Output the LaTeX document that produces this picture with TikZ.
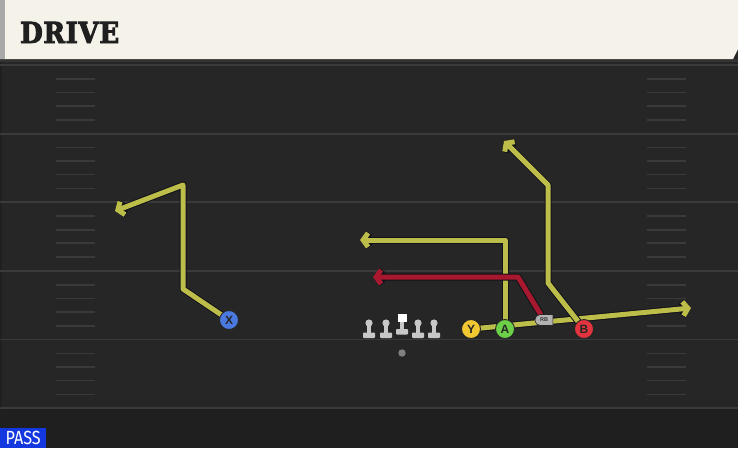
\documentclass[tikz,border=0pt]{standalone}
\usepackage{fontspec}
\usetikzlibrary{arrows.meta,shapes.misc}
\definecolor{cream}{HTML}{F5F2EA}
\definecolor{fieldbg}{HTML}{262626}
\definecolor{fieldlow}{HTML}{1F1F1F}
\definecolor{yardline}{HTML}{3A3A3A}
\definecolor{routey}{HTML}{BDBD4A}
\definecolor{router}{HTML}{A8182E}
\definecolor{routeedge}{HTML}{12121A}
\definecolor{pblue}{HTML}{4A7AE0}
\definecolor{pyellow}{HTML}{F2C832}
\definecolor{pgreen}{HTML}{6CD048}
\definecolor{pred}{HTML}{E2343E}
\definecolor{linegrey}{HTML}{C8C8C8}
\definecolor{passblue}{HTML}{1438E0}
\definecolor{stripgrey}{HTML}{A8A8A8}
\newfontfamily\headfont[FakeBold=3, LetterSpace=2, FakeStretch=0.9]{DejaVu Serif}
\newfontfamily\labfont{Liberation Sans}
\newfontfamily\passfont[FakeStretch=0.85]{Fira Sans}
\pgfdeclarelayer{field}
\pgfdeclarelayer{routes}
\pgfsetlayers{field,routes,main}
\newcommand\routedraw[2]{\draw[routeouter] #2; \draw[routeinner,#1] #2;}
\tikzset{
  routeouter/.style={line width=7pt, draw=routeedge, line join=round, -{Straight Barb[length=5pt,width=14pt]}},
  routeinner/.style={line width=5pt, line join=round, -{Straight Barb[length=5pt,width=14pt]}},
  player/.style={circle, minimum size=19pt, inner sep=0pt, draw=black!85, line width=0.9pt,
    font=\labfont\bfseries\fontsize{12}{12}\selectfont, text=black!85},
  yard/.style={draw=yardline, line width=1.8pt},
  hash/.style={draw=yardline, line width=1.6pt},
  lineman/.style={fill=linegrey},
}
\begin{document}
\begin{tikzpicture}[x=1pt,y=-1pt]
\useasboundingbox (0,0) rectangle (738,448);
\begin{pgfonlayer}{field}
  \fill[fieldbg] (0,0) rectangle (738,448);
  \fill[fieldlow] (0,408) rectangle (738,448);
  \fill[black!80] (0,59) rectangle (738,62);
  \fill[black!15!fieldbg] (0,62) rectangle (2,448);
  \fill[cream] (0,0) -- (738,0) -- (738,49) -- (733,59) -- (0,59) -- cycle;
  \fill[stripgrey] (0,0) rectangle (5,59);
  \foreach \k in {0,...,5} {
    \pgfmathsetmacro\yy{65+68.6*\k}
    \draw[yard] (0,\yy) -- (738,\yy);
  }
  \foreach \k in {0,...,4} {
    \foreach \o in {14,27.5,41,55} {
      \pgfmathsetmacro\yy{65+68.6*\k+\o}
      \draw[hash] (56,\yy) -- (95,\yy);
      \draw[hash] (647,\yy) -- (686,\yy);
    }
  }
\end{pgfonlayer}

\node[anchor=base west, font=\headfont\bfseries\fontsize{29}{29}\selectfont, text=black!88, inner sep=0pt] (title) at (20,43) {DRIVE};

% offensive line
\foreach \c in {369,386,418,434} {
  \fill[lineman] (\c,323) circle (3.6);
  \fill[lineman] (\c-2,323) rectangle (\c+2,333);
  \fill[lineman, rounded corners=0.8pt] (\c-6,332.5) rectangle (\c+6,338);
}
\fill[white] (397.5,314) rectangle (406.5,322);
\fill[lineman] (400,322) rectangle (404,330);
\fill[lineman, rounded corners=0.8pt] (396,329) rectangle (408,334.5);
\fill[black!50] (402,353) circle (3.7);

% players
\node[player, fill=pblue] (X) at (229,320) {X};
\node[player, fill=pyellow] (Y) at (471,329) {Y};
\node[player, fill=pgreen] (A) at (505,329) {A};
\node[player, fill=pred] (B) at (584,329) {B};
\node[rounded rectangle, rounded rectangle right arc=none, fill=black!30, draw=black!85, line width=0.6pt,
  minimum width=18pt, minimum height=11pt, inner sep=0pt, text=black!80,
  font=\labfont\bfseries\fontsize{5.5}{5.5}\selectfont] (RB) at (544,320) {RB};

% route points
\coordinate (x1) at (183,289);
\coordinate (x2) at (183,185);
\coordinate (xe) at (115,211);
\coordinate (a1) at (505,240);
\coordinate (ae) at (360,240);
\coordinate (r1) at (518,277);
\coordinate (re) at (373,277);
\coordinate (b1) at (548,283);
\coordinate (b2) at (548,185);
\coordinate (be) at (504,141);
\coordinate (ye) at (691,308);

\begin{pgfonlayer}{routes}
  \routedraw{routey}{(X.center) -- (x1) -- (x2) -- (xe)}
  \routedraw{routey}{(Y.center) -- (ye)}
  \routedraw{routey}{(A.center) -- (a1) -- (ae)}
  \routedraw{routey}{(B.center) -- (b1) -- (b2) -- (be)}
  \routedraw{router}{(RB.center) -- (r1) -- (re)}
\end{pgfonlayer}

\node[fill=passblue, text=white, anchor=south west, minimum width=46pt, minimum height=20pt, inner sep=0pt,
  font=\passfont\fontsize{19}{19}\selectfont] (pass) at (0,448) {PASS};
\end{tikzpicture}
\end{document}
